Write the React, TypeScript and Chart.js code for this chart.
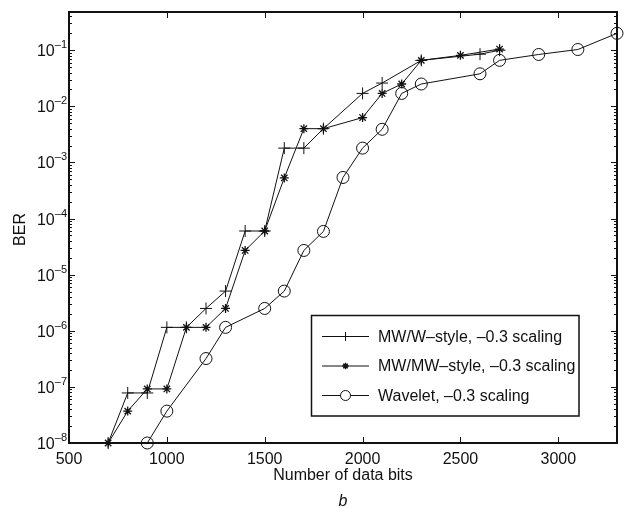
import React, { useEffect, useRef } from "react";
import { Chart, registerables } from "chart.js";

Chart.register(...registerables);

// ---- data ----
const mwwBits = [700, 800, 900, 1000, 1100, 1200, 1300, 1400, 1500, 1600, 1700, 1800, 2000, 2100, 2300, 2600, 2700];
const mwwBer = [1e-8, 7.8e-8, 7.8e-8, 1.15e-6, 1.15e-6, 2.5e-6, 5.1e-6, 6e-5, 6e-5, 1.8e-3, 1.8e-3, 4e-3, 1.7e-2, 2.6e-2, 6.6e-2, 8.5e-2, 1.0e-1];

const mwmwBits = [700, 800, 900, 1000, 1100, 1200, 1300, 1400, 1500, 1600, 1700, 1800, 2000, 2100, 2200, 2300, 2500, 2700];
const mwmwBer = [1e-8, 3.7e-8, 9.2e-8, 9.2e-8, 1.15e-6, 1.15e-6, 2.5e-6, 2.7e-5, 6e-5, 5.3e-4, 4e-3, 4e-3, 6.3e-3, 1.7e-2, 2.5e-2, 6.6e-2, 8.1e-2, 1.05e-1];

const waveletBits = [900, 1000, 1200, 1300, 1500, 1600, 1700, 1800, 1900, 2000, 2100, 2200, 2300, 2600, 2700, 2900, 3100, 3300];
const waveletBer = [1e-8, 3.7e-8, 3.2e-7, 1.15e-6, 2.5e-6, 5.1e-6, 2.7e-5, 5.9e-5, 5.4e-4, 1.8e-3, 3.9e-3, 1.7e-2, 2.5e-2, 3.8e-2, 6.6e-2, 8.4e-2, 1.03e-1, 2.0e-1];

const seriesLabels = ["MW/W\u2013style, \u20130.3 scaling", "MW/MW\u2013style, \u20130.3 scaling", "Wavelet, \u20130.3 scaling"];
const xTickValues = [500, 1000, 1500, 2000, 2500, 3000];
const yTickExponents = [-8, -7, -6, -5, -4, -3, -2, -1];
const xAxisTitle = "Number of data bits";
const yAxisTitle = "BER";
const panelLabel = "b";

const X_MIN = 500;
const X_MAX = 3300;
const Y_MIN = 1e-8;
const Y_MAX = 0.48;

const FONT = '"Liberation Sans", Arial, Helvetica, sans-serif';
const INK = "#111";

const toPoints = (xs: number[], ys: number[]) => xs.map((x, i) => ({ x, y: ys[i] }));

const axesPlugin = {
  id: "matlabAxes",
  beforeDatasetsDraw(chart: any) {
    const { ctx, chartArea: a, scales } = chart;
    const xs = scales.x;
    const ys = scales.y;
    ctx.save();
    ctx.strokeStyle = INK;
    ctx.lineWidth = 1;
    // x ticks (inward, bottom & top)
    ctx.beginPath();
    for (const v of xTickValues) {
      const px = Math.round(xs.getPixelForValue(v)) + 0.5;
      if (px <= a.left + 2 || px >= a.right - 2) continue;
      ctx.moveTo(px, a.bottom);
      ctx.lineTo(px, a.bottom - 6);
      ctx.moveTo(px, a.top);
      ctx.lineTo(px, a.top + 6);
    }
    // y ticks (major + minor, inward, left & right)
    for (let e = -8; e <= 0; e++) {
      for (let k = 1; k <= 9; k++) {
        const v = k * Math.pow(10, e);
        if (v < Y_MIN || v > Y_MAX) continue;
        const py = Math.round(ys.getPixelForValue(v)) + 0.5;
        const len = k === 1 ? 6 : 3;
        ctx.moveTo(a.left, py);
        ctx.lineTo(a.left + len, py);
        ctx.moveTo(a.right, py);
        ctx.lineTo(a.right - len, py);
      }
    }
    ctx.stroke();
    // frame
    ctx.lineWidth = 2;
    ctx.strokeRect(a.left, a.top, a.right - a.left, a.bottom - a.top);

    // tick labels
    ctx.fillStyle = INK;
    ctx.font = `16px ${FONT}`;
    ctx.textAlign = "center";
    ctx.textBaseline = "alphabetic";
    for (const v of xTickValues) {
      const px = xs.getPixelForValue(v);
      ctx.fillText(String(v), px, a.bottom + 21);
    }
    for (const e of yTickExponents) {
      const py = ys.getPixelForValue(Math.pow(10, e));
      const exp = "\u2013" + String(Math.abs(e));
      ctx.font = `11px ${FONT}`;
      const ew = ctx.measureText(exp).width;
      const right = a.left - 2;
      ctx.textAlign = "right";
      ctx.fillText(exp, right, py - 2);
      ctx.font = `16px ${FONT}`;
      ctx.fillText("10", right - ew, py + 6);
    }

    // axis titles
    ctx.font = `16px ${FONT}`;
    ctx.textAlign = "center";
    const cx = (a.left + a.right) / 2;
    ctx.fillText(xAxisTitle, cx, a.bottom + 37);
    ctx.font = `italic 16px ${FONT}`;
    ctx.fillText(panelLabel, cx, a.bottom + 63);
    ctx.save();
    ctx.translate(25, (a.top + a.bottom) / 2 + 2);
    ctx.rotate(-Math.PI / 2);
    ctx.font = `16px ${FONT}`;
    ctx.textAlign = "center";
    ctx.textBaseline = "alphabetic";
    ctx.fillText(yAxisTitle, 0, 0);
    ctx.restore();
    ctx.restore();
  },
  afterDatasetsDraw(chart: any) {
    const { ctx } = chart;
    const box = { l: 311.5, t: 315.5, r: 579, b: 416 };
    ctx.save();
    ctx.fillStyle = "#fff";
    ctx.fillRect(box.l, box.t, box.r - box.l, box.b - box.t);
    ctx.strokeStyle = INK;
    ctx.lineWidth = 1.5;
    ctx.strokeRect(box.l, box.t, box.r - box.l, box.b - box.t);
    const rows = [336.5, 366, 395.5];
    chart.data.datasets.forEach((ds: any, i: number) => {
      const y = rows[i];
      ctx.strokeStyle = INK;
      ctx.lineWidth = 1;
      ctx.beginPath();
      ctx.moveTo(322, y);
      ctx.lineTo(369, y);
      ctx.stroke();
      const mx = 345.5;
      ctx.beginPath();
      if (ds.pointStyle === "cross") {
        ctx.moveTo(mx - 4.5, y);
        ctx.lineTo(mx + 4.5, y);
        ctx.moveTo(mx, y - 4.5);
        ctx.lineTo(mx, y + 4.5);
      } else if (ds.pointStyle === "star") {
        const r = 3.2;
        ctx.moveTo(mx - r, y);
        ctx.lineTo(mx + r, y);
        ctx.moveTo(mx, y - r);
        ctx.lineTo(mx, y + r);
        const d = r * 0.7071;
        ctx.moveTo(mx - d, y - d);
        ctx.lineTo(mx + d, y + d);
        ctx.moveTo(mx - d, y + d);
        ctx.lineTo(mx + d, y - d);
        ctx.lineWidth = 1.5;
      } else {
        ctx.fillStyle = "#fff";
        ctx.arc(mx, y, 5, 0, Math.PI * 2);
        ctx.fill();
      }
      ctx.stroke();
      ctx.fillStyle = INK;
      ctx.font = `16px ${FONT}`;
      ctx.textAlign = "left";
      ctx.textBaseline = "middle";
      ctx.fillText(seriesLabels[i], 378, y + 1);
    });
    ctx.restore();
  },
};

export default function App() {
  const canvasRef = useRef<HTMLCanvasElement | null>(null);

  useEffect(() => {
    const canvas = canvasRef.current;
    if (!canvas) return;
    const common = {
      borderColor: INK,
      borderWidth: 1,
      pointBorderColor: INK,
      pointBackgroundColor: "rgba(0,0,0,0)",
      showLine: true,
      fill: false,
      tension: 0,
      clip: false as any,
    };
    const chart = new Chart(canvas, {
      type: "scatter",
      data: {
        datasets: [
          {
            ...common,
            label: seriesLabels[0],
            data: toPoints(mwwBits, mwwBer),
            pointStyle: "cross",
            pointRadius: 6,
            pointBorderWidth: 1,
          },
          {
            ...common,
            label: seriesLabels[1],
            data: toPoints(mwmwBits, mwmwBer),
            pointStyle: "star",
            pointRadius: 4.5,
            pointBorderWidth: 1.3,
          },
          {
            ...common,
            label: seriesLabels[2],
            data: toPoints(waveletBits, waveletBer),
            pointStyle: "circle",
            pointRadius: 6,
            pointBorderWidth: 1,
          },
        ],
      },
      options: {
        responsive: false,
        animation: false,
        devicePixelRatio: 1,
        layout: { padding: { left: 69, top: 12, right: 15, bottom: 65 } },
        scales: {
          x: { type: "linear", min: X_MIN, max: X_MAX, display: false },
          y: { type: "logarithmic", min: Y_MIN, max: Y_MAX, display: false },
        },
        plugins: {
          legend: { display: false },
          tooltip: { enabled: false },
        },
        events: [],
      },
      plugins: [axesPlugin],
    } as any);
    return () => chart.destroy();
  }, []);

  return (
    <div style={{ position: "absolute", left: 0, top: 0, width: 632, height: 508, background: "#fff" }}>
      <canvas ref={canvasRef} width={632} height={508} style={{ display: "block", width: 632, height: 508 }} />
    </div>
  );
}
